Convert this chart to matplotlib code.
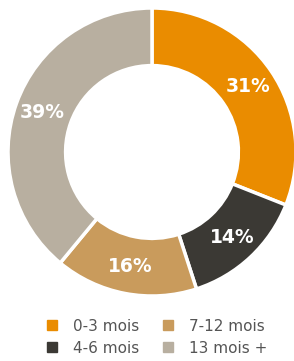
import matplotlib
matplotlib.use("Agg")
import matplotlib.pyplot as plt
from matplotlib.lines import Line2D
import numpy as np

labels = ["0-3 mois", "4-6 mois", "7-12 mois", "13 mois +"]
values = [31, 14, 16, 39]
colors = ["#EA8C00", "#3B3934", "#C99B5C", "#B8AFA0"]

fig = plt.figure(figsize=(2.94, 3.61), dpi=100)
ax = fig.add_axes([8/294, 65/361, 288/294, 288/361])
wedges, _ = ax.pie(values, colors=colors, startangle=90, counterclock=False,
                   radius=1.0, wedgeprops=dict(width=0.4, edgecolor="white", linewidth=2.5))
cum = 0
for v in values:
    mid = 90 - (cum + v / 2) * 3.6
    cum += v
    r = 0.81
    ax.text(r * np.cos(np.radians(mid)), r * np.sin(np.radians(mid)), f"{v}%",
            ha="center", va="center", color="white", fontsize=13.5, fontweight="bold")
ax.set_xlim(-1, 1)
ax.set_ylim(-1, 1)
ax.set_aspect("equal")
ax.axis("off")

handles = [Line2D([0], [0], marker="s", linestyle="none", markersize=6.5,
                  markerfacecolor=c, markeredgecolor=c) for c in colors]
leg = fig.legend(handles, labels, ncol=2, loc="center", bbox_to_anchor=(0.53, 0.066),
                 frameon=False, fontsize=11, handletextpad=0.9, columnspacing=1.35,
                 labelspacing=0.48, handlelength=1.0, labelcolor="#555555")
fig.savefig("out.png", dpi=100)
